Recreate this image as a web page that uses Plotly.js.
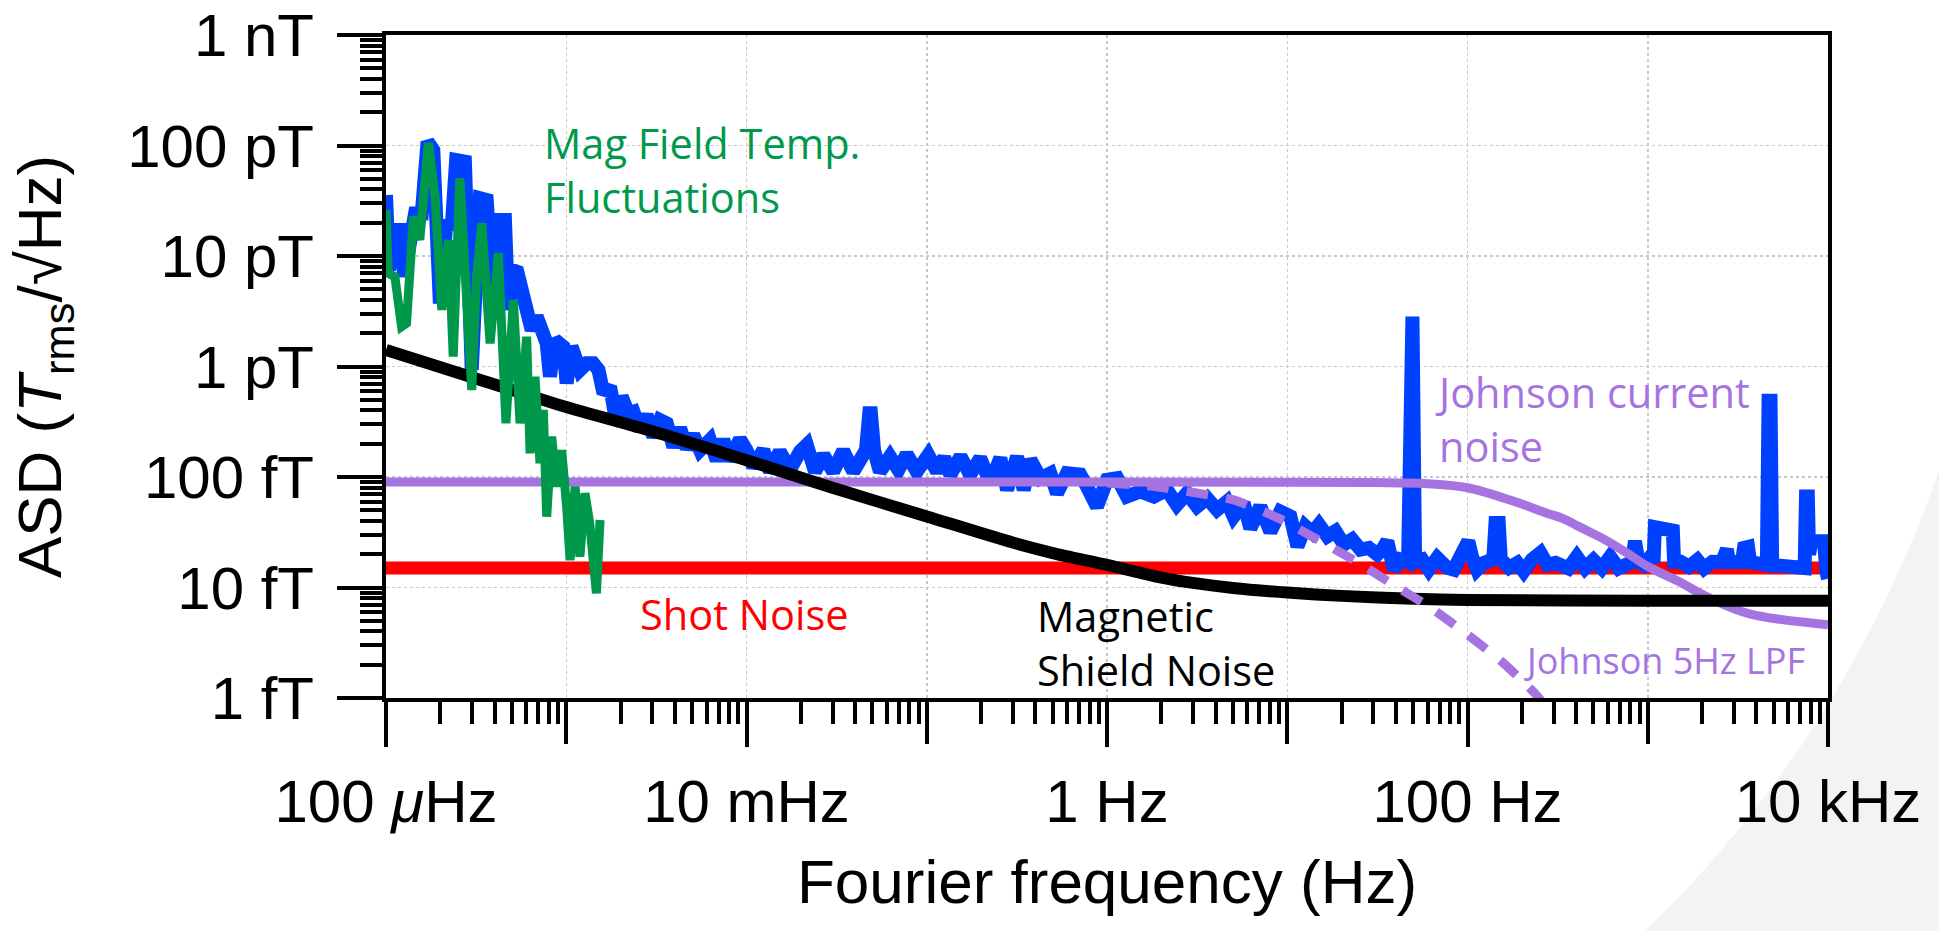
<!DOCTYPE html>
<html>
<head>
<meta charset="utf-8">
<script src="https://cdn.plot.ly/plotly-3.0.1.min.js"></script>
<style>
html,body{margin:0;padding:0;background:#ffffff;}
#chart{width:1939px;height:931px;}
</style>
</head>
<body>
<div id="chart"></div>
<script>
// ---------- data (frequency in Hz, ASD in fT/sqrt(Hz)) ----------
const freqBlue = [
  1.00e-4,1.04e-4,1.12e-4,1.21e-4,1.26e-4,1.36e-4,1.45e-4,1.58e-4,1.70e-4,1.83e-4,
  1.99e-4,2.17e-4,2.31e-4,2.45e-4,2.74e-4,2.99e-4,3.32e-4,3.62e-4,3.91e-4,4.11e-4,
  4.57e-4,4.77e-4,5.04e-4,5.35e-4,6.03e-4,6.43e-4,6.85e-4,7.31e-4,7.79e-4,8.12e-4,
  8.66e-4,9.63e-4,1.005e-3,1.07e-3,1.19e-3,1.30e-3,1.41e-3,1.51e-3,1.61e-3,
  1.75e-3,1.90e-3,2.03e-3,2.21e-3,2.36e-3,2.57e-3,2.79e-3,3.04e-3,3.31e-3,3.61e-3,
  3.93e-3,4.28e-3,4.66e-3,5.07e-3,5.52e-3,6.27e-3,6.83e-3,7.44e-3,8.10e-3,9.20e-3,
  1.00e-2,1.09e-2,1.24e-2,1.35e-2,1.53e-2,1.74e-2,1.98e-2,2.16e-2,2.40e-2,2.67e-2,
  3.03e-2,3.44e-2,3.91e-2,4.60e-2,4.80e-2,4.90e-2,5.10e-2,5.50e-2,6.25e-2,6.96e-2,
  7.74e-2,8.80e-2,0.102,0.114,
  0.125,0.135,0.154,0.174,0.198,0.225,0.256,0.279,0.317,0.345,
  0.376,0.427,0.485,0.528,0.600,0.711,0.774,0.880,1.00,1.14,
  1.29,1.53,1.82,2.15,2.44,2.78,3.16,3.59,4.08,4.63,
  5.04,5.73,6.24,7.09,8.06,9.15,
  10.4,11.4,12.6,13.8,15.0,16.7,18.5,20.6,22.9,25.5,
  28.4,31.6,33.6,35.9,39.0,42.5,46.8,48.5,49.5,51.2,
  56.1,61.0,67.9,77.1,84.0,91.5,97.0,101,106,113,
  123,139,143,149,153,170,189,205,228,254,
  277,308,
  363,404,449,500,556,619,689,751,815,840,
  860,890,950,1035,1080,1095,1230,1260,1378,1400,
  1521,1693,1884,2053,2284,2580,2650,2750,2820,3149,
  3330,3420,3600,3700,4071,4580,4680,4800,4900,5377,
  5984,6517,7420,7550,7730,7850,8100,8500,9500,9800,
  10000
];
const asdBlue = [
  35600,7470,17200,17200,6500,11300,24300,24300,108000,91000,
  3730,21200,17200,73900,71400,929,33300,32100,4290,21200,
  21200,3250,7470,7210,2830,2140,2830,1860,1620,809,
  1740,1510,705,1510,929,1070,1070,929,571,
  657,306,533,377,390,266,364,232,328,306,
  188,276,182,240,175,216,142,216,142,219,
  175,124,175,112,170,116,170,195,112,158,
  112,173,112,175,377,377,175,112,153,116,
  161,112,158,112,
  150,105,153,105,148,88,148,76.5,153,76.5,
  143,97.6,108,71.4,108,105,82,54.1,94.3,97.6,
  66.6,73.9,66.6,76.5,56,71.4,54.1,64.3,50.5,60,
  43.9,58,34.4,54.1,32.1,48.7,
  44.1,23.6,35.8,31.2,37.1,29.1,32.3,24.5,27.2,22.0,
  22.8,19.9,22.0,26.2,14.5,17.9,17,2830,2830,17,
  17.9,14.5,18.5,15.1,14.5,19.2,26.2,26.2,19,14.5,
  16.7,18,38.4,38.4,18,15.1,16.7,14.0,17.9,20.6,
  16.1,16.7,
  14.9,19.0,14.9,17.7,14.9,19.0,14.9,16.5,17,23.3,
  23.3,17,16.0,19.0,19,35.2,35.2,32.8,32.8,17.1,
  17.1,15.4,17.7,14.9,17.1,17,22.2,22.2,17,16.5,
  17,22.8,23.3,17,16.0,16,489,489,16,16.0,
  15.4,14.9,15,66.7,66.7,20,26.2,26.2,26.2,14,
  12
];

const freqGreen = [
  1.00e-4,1.03e-4,1.12e-4,1.22e-4,1.30e-4,1.42e-4,1.54e-4,1.72e-4,1.87e-4,2.04e-4,
  2.22e-4,2.36e-4,2.57e-4,2.74e-4,2.99e-4,3.18e-4,3.40e-4,3.78e-4,4.20e-4,4.63e-4,
  5.09e-4,5.54e-4,6.03e-4,6.30e-4,6.71e-4,7.15e-4,7.46e-4,7.79e-4,8.30e-4,8.85e-4,
  9.43e-4,1.005e-3,1.05e-3,1.12e-3,1.19e-3,1.27e-3,1.35e-3,1.47e-3,1.54e-3
];
const asdGreen = [
  26100,6970,6500,2290,2460,22700,14000,105000,34400,3250,
  14000,1230,50500,8590,612,6500,19800,1620,10600,306,
  4000,306,1860,164,809,133,404,43.8,232,81.8,
  175,53.9,17.7,81.8,19.0,71.2,38.1,8.86,40.8
];

const freqShield = [1e-4,3e-4,1e-3,3e-3,1e-2,3e-2,0.1,0.3,0.5,1,2,3,5,10,20,50,100,1000,1e4];
const asdShield  = [1410,800,430,260,142,80,44,25.5,20.5,16,12.3,11,9.9,9.0,8.4,7.9,7.7,7.6,7.6];

const freqShot = [1e-4, 1e4];
const asdShot  = [15, 15];

const freqJohnson = [1e-4,1,10,30,60,100,182,276,339,423,580,767,1000,1460,2240,3630,1e4];
const asdJohnson  = [90,90,89.6,89,87,80,60,47,42,35,27,20.5,15.5,11.5,7.9,5.8,4.6];

const freqJohnsonLPF = [1.0,1.74,3.03,5.04,8.95,14.7,24.0,38.8,62,99,154,228,300];
const asdJohnsonLPF  = [88,83,72.4,62,42.4,27.2,17.3,10.6,6.6,3.8,2.15,1.17,0.7];

// labelled decades (bottom axis) and unlabelled decades (long ticks only)
const xTickVals = [1e-4,1e-2,1,100,10000];
const xTickText = ['100 <i>\u03bc</i>Hz','10 mHz','1 Hz','100 Hz','10 kHz'];
const xTickValsUnlabelled = [1e-3,1e-1,10,1000];
const yTickVals = [1,10,100,1000,10000,100000,1000000];
const yTickText = ['1 fT','10 fT','100 fT','1 pT','10 pT','100 pT','1 nT'];

// ---------- colours ----------
const BLUE = '#0040FF', GREEN = '#00994C', RED = '#FF0000', BLACK = '#000000', PURPLE = '#A674E0';

// minor ticks 2..9 in every decade
function minorTicks(d0, d1){
  const v = [];
  for (let d = d0; d < d1; d++) for (let k = 2; k <= 9; k++) v.push(k * Math.pow(10, d));
  return v;
}

const traces = [
  {x: freqShot, y: asdShot, mode: 'lines', line: {color: RED, width: 13}, hoverinfo: 'skip'},
  {x: freqBlue, y: asdBlue, mode: 'lines', line: {color: BLUE, width: 14, shape: 'linear'}, hoverinfo: 'skip'},
  {x: freqJohnson, y: asdJohnson, mode: 'lines', line: {color: PURPLE, width: 9, shape: 'spline', smoothing: 1}, hoverinfo: 'skip'},
  {x: freqShield, y: asdShield, mode: 'lines', line: {color: BLACK, width: 12, shape: 'spline', smoothing: 0.8}, hoverinfo: 'skip'},
  {x: freqGreen, y: asdGreen, mode: 'lines', line: {color: GREEN, width: 9}, hoverinfo: 'skip'},
  {x: freqJohnsonLPF, y: asdJohnsonLPF, xaxis: 'x2', mode: 'lines', line: {color: PURPLE, width: 9, dash: '22px,18px', shape: 'spline', smoothing: 0.6}, hoverinfo: 'skip'}
];

// light grey slide decoration in the lower-right corner (outside a large circle)
function swooshPath(){
  const L = 386, R = 1828, T = 35, B = 698;
  const toX = px => (px - L) / (R - L);
  const toY = py => (B - py) / (B - T);
  const cx = 831, cy = 88, r = 1172;
  const aStart = Math.atan2(470 - cy, 1939 - cx);
  const aEnd = Math.atan2(931 - cy, 1645 - cx);
  let p = 'M ' + toX(1939) + ' ' + toY(470);
  const n = 40;
  for (let i = 1; i <= n; i++){
    const a = aStart + (aEnd - aStart) * i / n;
    p += ' L ' + toX(cx + r * Math.cos(a)) + ' ' + toY(cy + r * Math.sin(a));
  }
  p += ' L ' + toX(1939) + ' ' + toY(931) + ' Z';
  return p;
}

const tickFont = {size: 60, family: 'Liberation Sans, Arial, sans-serif', color: '#000000'};
const gridStyle = {showgrid: true, gridcolor: '#c8c8c8', gridwidth: 1.5, griddash: 'dot'};
const annFont = 'Open Sans, Noto Sans, sans-serif';

const layout = {
  width: 1939, height: 931,
  margin: {l: 386, r: 111, t: 35, b: 233, pad: 0},
  paper_bgcolor: '#ffffff',
  plot_bgcolor: '#ffffff',
  showlegend: false,
  font: {family: 'Liberation Sans, Arial, sans-serif', color: '#000000'},
  xaxis: Object.assign({
    type: 'log', range: [-4, 4], fixedrange: true,
    tickmode: 'array', tickvals: xTickVals, ticktext: xTickText,
    ticks: 'outside', ticklen: 45, tickwidth: 4, tickcolor: '#000000',
    ticklabelstandoff: 3,
    tickfont: tickFont,
    showline: true, linewidth: 4, linecolor: '#000000', mirror: true,
    zeroline: false,
    minor: {tickmode: 'array', tickvals: minorTicks(-4, 4), ticks: 'outside', ticklen: 22, tickwidth: 4, tickcolor: '#000000', showgrid: false},
    title: {text: 'Fourier frequency (Hz)', font: {size: 62, color: '#000000'}, standoff: 27}
  }, gridStyle),
  xaxis2: Object.assign({
    type: 'log', range: [-4, 4], fixedrange: true,
    overlaying: 'x', anchor: 'y', side: 'bottom',
    tickmode: 'array', tickvals: xTickValsUnlabelled,
    showticklabels: false,
    ticks: 'outside', ticklen: 45, tickwidth: 4, tickcolor: '#000000',
    showline: false, zeroline: false
  }, gridStyle),
  yaxis: Object.assign({
    type: 'log', range: [0, 6], fixedrange: true,
    tickmode: 'array', tickvals: yTickVals, ticktext: yTickText,
    ticks: 'outside', ticklen: 45, tickwidth: 4, tickcolor: '#000000',
    ticklabelstandoff: 11,
    tickfont: tickFont,
    showline: true, linewidth: 4, linecolor: '#000000', mirror: true,
    zeroline: false,
    minor: {tickmode: 'array', tickvals: minorTicks(0, 6), ticks: 'outside', ticklen: 22, tickwidth: 4, tickcolor: '#000000', showgrid: false},
    title: {text: 'ASD (<i>T</i><sub>rms</sub>/\u221AHz)', font: {size: 62, color: '#000000'}, standoff: 47}
  }, gridStyle),
  shapes: [
    {type: 'path', xref: 'paper', yref: 'paper', path: swooshPath(), fillcolor: '#f2f3f5', line: {width: 0}, layer: 'below'}
  ],
  annotations: [
    {xref: 'paper', yref: 'paper', x: 0.1082, y: 0.7964, xanchor: 'left', yanchor: 'middle', align: 'left', showarrow: false,
     text: 'Mag Field Temp.<br>Fluctuations', font: {family: annFont, size: 41.5, color: GREEN}},
    {xref: 'paper', yref: 'paper', x: 0.1748, y: 0.1267, xanchor: 'left', yanchor: 'middle', align: 'left', showarrow: false,
     text: 'Shot Noise', font: {family: annFont, size: 41.5, color: RED}},
    {xref: 'paper', yref: 'paper', x: 0.4501, y: 0.0830, xanchor: 'left', yanchor: 'middle', align: 'left', showarrow: false,
     text: 'Magnetic<br>Shield Noise', font: {family: annFont, size: 41.5, color: BLACK}},
    {xref: 'paper', yref: 'paper', x: 0.7260, y: 0.4208, xanchor: 'left', yanchor: 'middle', align: 'left', showarrow: false,
     text: 'Johnson current<br>noise', font: {family: annFont, size: 41.5, color: PURPLE}},
    {xref: 'paper', yref: 'paper', x: 0.7880, y: 0.0573, xanchor: 'left', yanchor: 'middle', align: 'left', showarrow: false,
     text: 'Johnson 5Hz LPF', font: {family: annFont, size: 36, color: PURPLE}}
  ]
};

Plotly.newPlot('chart', traces, layout, {displayModeBar: false, staticPlot: true});
</script>
</body>
</html>
